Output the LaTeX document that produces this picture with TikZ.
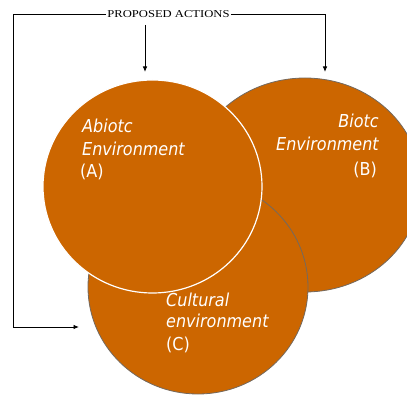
\documentclass[tikz,border=0pt]{standalone}
\usepackage{fontspec}
\usepackage{graphicx}
\usetikzlibrary{arrows.meta,shapes.geometric}
\newfontfamily\labfont{DejaVu Sans Condensed}
\newfontfamily\capfont{Liberation Serif}
\definecolor{envorange}{RGB}{204,102,0}
\definecolor{envedge}{RGB}{115,105,95}
\begin{document}
\begin{tikzpicture}[x=1pt,y=-1pt,
  env/.style={ellipse, fill=envorange, inner sep=0pt, outer sep=0pt},
  lab/.style={text=white, font=\labfont\fontsize{17.8}{22}\selectfont, inner sep=0pt},
  conn/.style={draw=black, line width=0.9pt},
  tip/.style={-{Latex[length=5.5pt,width=4.5pt]}}
]
\clip (0,0) rectangle (407,396);
% circles
\node[env, draw=envedge, line width=0.8pt, minimum width=232pt, minimum height=214pt] (B) at (305,185) {};
\node[env, draw=envedge, line width=0.8pt, minimum width=220pt, minimum height=214pt] (C) at (198,287) {};
\node[env, draw=white, line width=1.2pt, minimum width=219pt, minimum height=213pt] (A) at (152.5,186.5) {};
% labels A
\node[lab, anchor=base west] (A1) at (82,132) {\itshape Abiotc};
\node[lab, anchor=base west] (A2) at (82,155) {\itshape Environment};
\node[lab, anchor=base west] (A3) at (80,177) {(A)};
% labels B
\node[lab, anchor=base east] (B1) at (379,127) {\itshape Biotc};
\node[lab, anchor=base east] (B2) at (379,150) {\itshape Environment};
\node[lab, anchor=base east] (B3) at (377,175) {(B)};
% labels C
\node[lab, anchor=base west] (C1) at (166,306) {\itshape Cultural};
\node[lab, anchor=base west] (C2) at (166,327) {\itshape environment};
\node[lab, anchor=base west] (C3) at (166,350) {(C)};
% proposed actions
\node[inner sep=1pt, font=\capfont\fontsize{10.5}{12}\selectfont] (pa) at (168.5,14.5) {\scalebox{1.2}[1]{PROPOSED ACTIONS}};
\coordinate (L1) at (13,0 |- pa.west);
\coordinate (Ctip) at (79,327);
\coordinate (Btip) at (325,72);
\coordinate (Astart) at (145,25);
\coordinate (Atip) at (145,72);
\draw[conn,tip] (pa.west) -- (L1) |- (Ctip);
\draw[conn,tip] (pa.east) -| (Btip);
\draw[conn,tip] (Astart) -- (Atip);
\end{tikzpicture}
\end{document}
